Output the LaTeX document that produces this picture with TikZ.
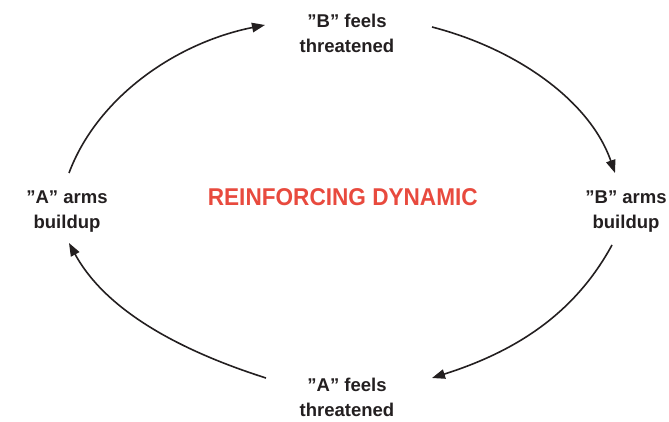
\documentclass[tikz,border=0pt]{standalone}
\usepackage{fontspec}
\setmainfont{Liberation Sans}
\newfontfamily\titlefont[FakeStretch=0.93]{Liberation Sans}
\usetikzlibrary{arrows.meta}
\definecolor{ink}{RGB}{35,31,32}
\definecolor{redtitle}{RGB}{232,74,62}
\tikzset{
  label/.style={font=\fontsize{18.5}{25.5}\selectfont\bfseries, text=ink, align=center, inner sep=0pt, anchor=base},
  titletext/.style={font=\titlefont\fontsize{24.3}{28}\selectfont\bfseries, text=redtitle, inner sep=0pt, anchor=base},
  arr/.style={draw=ink, line width=1.6pt, -{Triangle[length=13pt,width=9.5pt]}}
}
\begin{document}
\begin{tikzpicture}[x=1pt,y=-1pt]
\useasboundingbox (0,0) rectangle (669,422);
\node[label] (bft) at (347,52.8) {”B” feels\\threatened};
\node[label] (aab) at (67,229) {”A” arms\\buildup};
\node[label] (bab) at (626,229) {”B” arms\\buildup};
\node[label] (aft) at (347,416.5) {”A” feels\\threatened};
\node[titletext] (title) at (342.8,206) {REINFORCING DYNAMIC};
% arrow end points
\coordinate (a1s) at (69,173);
\coordinate (a1e) at (265,25);
\coordinate (a2s) at (432,27);
\coordinate (a2e) at (615,173);
\coordinate (a3s) at (612,245);
\coordinate (a3e) at (432,378);
\coordinate (a4s) at (266,378);
\coordinate (a4e) at (69,243);
\draw[arr] (a1s) .. controls (97,98) and (175,43) .. (a1e);
\draw[arr] (a2s) .. controls (517,49) and (590,101) .. (a2e);
\draw[arr] (a3s) .. controls (575,313) and (517,351) .. (a3e);
\draw[arr] (a4s) .. controls (181,351) and (106,311) .. (a4e);
\end{tikzpicture}
\end{document}
